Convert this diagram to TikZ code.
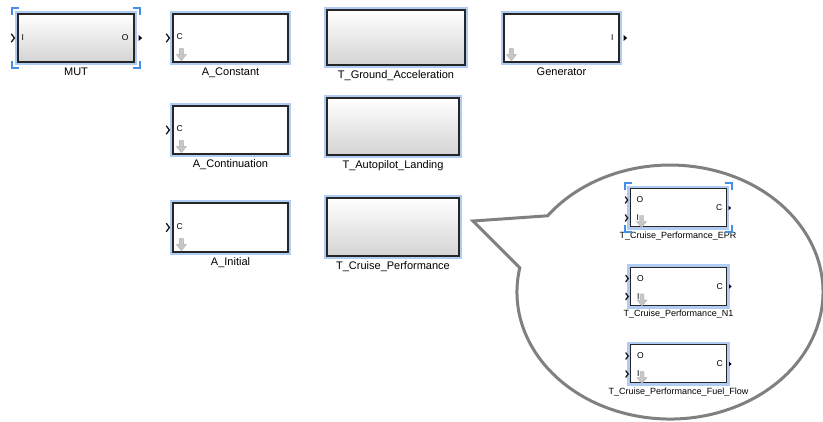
\documentclass[tikz,border=0pt]{standalone}
\usepackage{fontspec}
\setmainfont{Liberation Sans}
\usepackage{xcolor}
\usepackage{tikz}
\usetikzlibrary{positioning}
\usetikzlibrary{calc,arrows}

\definecolor{halo}{RGB}{176,204,243}
\definecolor{selblue}{RGB}{70,142,235}

\begin{document}
\begin{tikzpicture}[x=1pt, y=-1pt, >=stealth,
    blk/.style={rectangle, draw=black!85, line width=1.2pt, inner sep=0pt,
      minimum width=115pt, minimum height=48pt, fill=white,
      preaction={draw=halo, line width=6.5pt}},
    tblk/.style={blk, top color=white, bottom color=black!17},
    sblk/.style={minimum width=96pt, minimum height=38pt, line width=1pt},
    blkcap/.style={font=\fontsize{11}{11}\selectfont, inner sep=0pt,
      text height=8pt, text depth=2pt},
    sblkcap/.style={font=\fontsize{9}{9}\selectfont, inner sep=0pt,
      text height=6.5pt, text depth=2pt},
    prt/.style={font=\fontsize{8.5}{8.5}\selectfont, inner sep=0pt},
    selmark/.style={draw=selblue, line width=2pt},
    callout/.style={draw=black!50, line width=3pt, line join=miter, fill=white},
    inport/.pic={\draw[line width=1.3pt, line cap=round, black!90]
      (-4,-4) -- (-1,0) -- (-4,4);},
    outport/.pic={\fill (0,-3) -- (3.5,0) -- (0,3) -- cycle;},
    dnarrow/.pic={\filldraw[fill=black!22, draw=black!32, line width=0.4pt]
      (-2,0) -- (2,0) -- (2,6) -- (5,6) -- (0,12) -- (-5,6) -- (-2,6) -- cycle;}]

  \useasboundingbox (0,0) rectangle (823,422);

  % zoom bubble
  \draw[callout] (519.8,267.8) coordinate (lo)
    arc[start angle=191, end angle=-143.1, x radius=153, y radius=127]
    coordinate (up) -- (473,221) coordinate (tip) -- cycle;

  \node[tblk, minimum width=116pt] (mut) at (76,38) {};
  \node[blk] (cst) at (230.5,38) {};
  \node[tblk, minimum width=138pt, minimum height=55pt] (gnd) at (396,37.5) {};
  \node[blk] (gen) at (561.5,38) {};
  \node[blk] (cnt) at (230.5,130) {};
  \node[tblk, minimum width=132pt, minimum height=57pt] (apl) at (393,126.5) {};
  \node[blk, minimum height=49pt] (ini) at (230.5,227.5) {};
  \node[tblk, minimum width=132pt, minimum height=58pt] (crs) at (393,227) {};

  \node[blk,sblk] (epr) at (678,208) {};
  \node[blk,sblk] (nei) at (678.5,286.5) {};
  \node[blk,sblk] (ffl) at (678.5,364) {};

  \node[blkcap, below=5pt of mut] (mutcap) {MUT};
  \node[blkcap, below=5pt of cst] (cstcap) {A\_Constant};
  \node[blkcap, below=5pt of gnd] (gndcap) {T\_Ground\_Acceleration};
  \node[blkcap, below=5pt of gen] (gencap) {Generator};
  \node[blkcap, below=5pt of cnt] (cntcap) {A\_Continuation};
  \node[blkcap, below=5pt of apl] (aplcap) {T\_Autopilot\_Landing};
  \node[blkcap, below=5pt of ini] (inicap) {A\_Initial};
  \node[blkcap, below=5pt of crs] (crscap) {T\_Cruise\_Performance};
  \node[sblkcap, below=4pt of epr] (eprcap) {T\_Cruise\_Performance\_EPR};
  \node[sblkcap, below=4pt of nei] (neicap) {T\_Cruise\_Performance\_N1};
  \node[sblkcap, below=4pt of ffl] (fflcap) {T\_Cruise\_Performance\_Fuel\_Flow};

  \pic at ([xshift=-2pt]mut.west) {inport};
  \pic at ([xshift=4pt]mut.east) {outport};
  \node[prt, anchor=west] at ([xshift=4pt]mut.west) {I};
  \node[prt, anchor=east] at ([xshift=-6pt]mut.east) {O};

  \foreach \nd in {cst,cnt,ini}{
    \pic at ([xshift=-2pt]\nd.west) {inport};
    \node[prt, anchor=west] at ([xshift=4pt,yshift=1pt]\nd.west) {C};
    \pic at ([xshift=9pt,yshift=14pt]\nd.south west) {dnarrow};
  }

  \pic at ([xshift=4pt]gen.east) {outport};
  \node[prt, anchor=east] at ([xshift=-6pt]gen.east) {I};
  \pic at ([xshift=8pt,yshift=14pt]gen.south west) {dnarrow};

  \foreach \nd in {epr,nei,ffl}{
    \pic[scale=0.8] at ([xshift=-1pt,yshift=8pt]\nd.west) {inport};
    \pic[scale=0.8] at ([xshift=-1pt,yshift=-10pt]\nd.west) {inport};
    \node[prt, anchor=west] at ([xshift=7pt,yshift=8pt]\nd.west) {O};
    \node[prt, anchor=west] at ([xshift=7pt,yshift=-10pt]\nd.west) {I};
    \node[prt, anchor=east] at ([xshift=-4pt]\nd.east) {C};
    \pic[scale=0.75] at ([xshift=2pt]\nd.east) {outport};
    \pic at ([xshift=12pt,yshift=12pt]\nd.south west) {dnarrow};
  }

  % selection corners
  \foreach \nd in {mut,epr}{
    \draw[selmark] ([xshift=-5pt,yshift=-2pt]\nd.north west) -- ++(0pt,7pt) -- ++(7pt,0pt);
    \draw[selmark] ([xshift=-2pt,yshift=5pt]\nd.north east) -- ++(7pt,0pt) -- ++(0pt,-7pt);
    \draw[selmark] ([xshift=-5pt,yshift=2pt]\nd.south west) -- ++(0pt,-7pt) -- ++(7pt,0pt);
    \draw[selmark] ([xshift=-2pt,yshift=-5pt]\nd.south east) -- ++(7pt,0pt) -- ++(0pt,7pt);
  }
\end{tikzpicture}
\end{document}
